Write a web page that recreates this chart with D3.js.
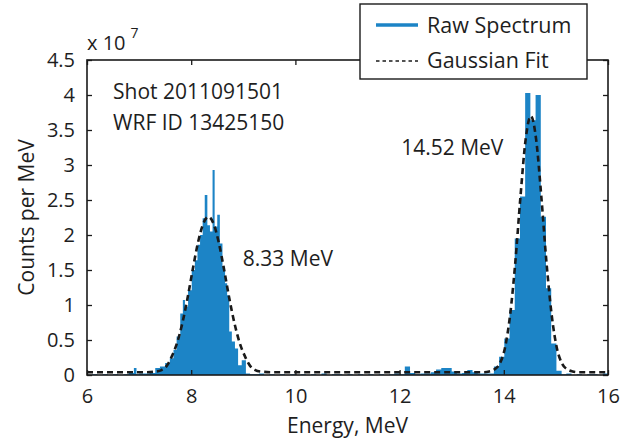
<!DOCTYPE html>
<html><head><meta charset="utf-8">
<script src="https://cdn.jsdelivr.net/npm/d3@7"></script>
<style>body{margin:0;background:#fff}svg text{font-family:"Open Sans",sans-serif;fill:#1e1e1e}</style>
</head><body><svg id="c" width="623" height="439"></svg>
<script>
// Raw spectrum: bin start energies (MeV) and counts per MeV (x 1e7)
const binStart = [6.0,6.1,6.2,6.3,6.4,6.5,6.6,6.7,6.8,6.9,6.95,7.0,7.1,
  7.2,7.31,7.40,7.50,7.59,7.66,7.72,7.79,7.84,7.88,7.94,8.01,8.07,8.12,8.17,8.22,8.26,8.31,8.36,8.41,8.45,8.50,8.55,8.60,8.65,8.69,8.73,8.78,8.84,8.90,8.97,9.05,9.13,
  9.2,9.3,9.4,9.5,9.6,9.7,9.8,9.9,10.0,10.1,10.2,10.3,10.4,10.5,10.6,10.7,10.8,10.9,11.0,11.1,11.2,11.3,11.4,11.5,11.6,11.7,11.8,11.9,12.0,12.1,12.2,12.3,12.4,12.5,12.6,12.7,12.8,12.9,13.0,13.1,13.2,13.3,13.4,13.5,13.6,13.7,
  13.81,13.91,14.01,14.11,14.21,14.31,14.41,14.51,14.61,14.71,14.81,14.91,15.01,15.11,
  15.2,15.3,15.4,15.5,15.6,15.7,15.8,15.9];
const counts = [0.0,0.01,0.0,0.01,0.0,0.01,0.0,0.01,0.03,0.10,0.01,0.02,0.02,
  0.03,0.10,0.12,0.17,0.24,0.36,0.55,0.88,1.07,0.98,1.21,1.50,1.64,1.86,2.00,2.24,2.57,2.14,2.05,2.93,2.12,2.29,1.88,1.55,1.31,1.14,0.62,0.48,0.38,0.14,0.21,0.02,0.01,
  0.01,0.02,0.0,0.01,0.0,0.01,0.0,0.01,0.0,0.01,0.0,0.01,0.0,0.02,0.0,0.01,0.01,0.0,0.01,0.0,0.01,0.0,0.01,0.0,0.01,0.0,0.01,0.02,0.01,0.12,0.03,0.01,0.02,0.02,0.04,0.08,0.10,0.10,0.05,0.02,0.03,0.07,0.04,0.02,0.02,0.02,
  0.12,0.26,0.52,0.93,1.95,2.55,4.03,3.64,4.00,2.26,1.24,0.45,0.06,0.01,
  0.02,0.0,0.01,0.0,0.01,0.01,0.0,0.02];
const binEnd = 16;

// Gaussian fit curve points
const fitE = [6.0,7.0,7.13,7.33,7.43,7.53,7.63,7.73,7.83,7.93,8.03,8.13,8.23,8.33,8.43,8.53,8.63,8.73,8.83,8.93,9.03,9.13,9.23,9.33,9.53,
  13.5,13.62,13.72,13.82,13.92,14.02,14.12,14.22,14.32,14.42,14.52,14.62,14.72,14.82,14.92,15.02,15.12,15.22,15.32,15.42,16.0];
const fitV = [0.04,0.04,0.04,0.05,0.07,0.13,0.27,0.46,0.74,1.10,1.51,1.89,2.16,2.26,2.16,1.89,1.51,1.10,0.74,0.46,0.27,0.13,0.07,0.05,0.04,
  0.04,0.04,0.05,0.08,0.16,0.38,0.85,1.60,2.55,3.37,3.70,3.37,2.55,1.60,0.85,0.38,0.16,0.08,0.05,0.04,0.04];

const xTicks = [6,8,10,12,14,16];
const yTicks = [0,0.5,1,1.5,2,2.5,3,3.5,4,4.5];
const yTickLabels = ["0","0.5","1","1.5","2","2.5","3","3.5","4","4.5"];
const annotations = [
  {text:"Shot 2011091501", e:6.5, v:3.94},
  {text:"WRF ID 13425150", e:6.5, v:3.5},
  {text:"8.33 MeV", e:8.99, v:1.56},
  {text:"14.52 MeV", e:12.03, v:3.14}
];
const legendItems = ["Raw Spectrum","Gaussian Fit"];

const blue = "#1c84c6";
const svg = d3.select("#c");
const x = d3.scaleLinear().domain([6,16]).range([87,608]);
const y = d3.scaleLinear().domain([0,4.5]).range([375,60]);

// histogram
const hist = binStart.map((e,i)=>({e, v:counts[i]}));
hist.push({e:binEnd, v:counts[counts.length-1]});
svg.append("path").datum(hist)
  .attr("d", d3.area().x(d=>x(d.e)).y0(y(0)).y1(d=>y(d.v)).curve(d3.curveStepAfter))
  .attr("fill", blue);

// axes box
svg.append("rect").attr("x",87).attr("y",60).attr("width",521).attr("height",315)
  .attr("fill","none").attr("stroke","#1a1a1a").attr("stroke-width",1.6);

const xb = svg.append("g").attr("transform",`translate(0,${y(0)})`)
  .call(d3.axisBottom(x).tickValues(xTicks).tickSizeInner(-5).tickSizeOuter(0).tickPadding(14).tickFormat(d3.format("d")));
xb.select(".domain").remove();
const xt = svg.append("g").attr("transform",`translate(0,${y(4.5)})`)
  .call(d3.axisTop(x).tickValues(xTicks).tickSizeInner(-5).tickSizeOuter(0).tickFormat(""));
xt.select(".domain").remove();
const yl = svg.append("g").attr("transform",`translate(${x(6)},0)`)
  .call(d3.axisLeft(y).tickValues(yTicks).tickSizeInner(-5).tickSizeOuter(0).tickPadding(12).tickFormat((d,i)=>yTickLabels[i]));
yl.select(".domain").remove();
const yr = svg.append("g").attr("transform",`translate(${x(16)},0)`)
  .call(d3.axisRight(y).tickValues(yTicks).tickSizeInner(-5).tickSizeOuter(0).tickFormat(""));
yr.select(".domain").remove();
svg.selectAll(".tick line").attr("stroke","#1a1a1a").attr("stroke-width",1.3);
xb.selectAll("text").attr("font-size",20).attr("font-family","Open Sans").attr("fill","#1e1e1e");
yl.selectAll("text").attr("font-size",20).attr("font-family","Open Sans").attr("fill","#1e1e1e");

// fit line
svg.append("path").datum(fitE.map((e,i)=>({e,v:fitV[i]})))
  .attr("d", d3.line().x(d=>x(d.e)).y(d=>y(d.v)).curve(d3.curveMonotoneX))
  .attr("fill","none").attr("stroke","#1a1a1a").attr("stroke-width",2.6).attr("stroke-dasharray","6,4");

// axis labels
svg.append("text").attr("x",(x(6)+x(16))/2).attr("y",433).attr("text-anchor","middle").attr("font-size",21).text("Energy, MeV");
svg.append("text").attr("transform",`translate(34,${(y(0)+y(4.5))/2}) rotate(-90)`).attr("text-anchor","middle").attr("font-size",21).text("Counts per MeV");
const ex = svg.append("text").attr("x",87).attr("y",50).attr("font-size",20);
ex.append("tspan").text("x 10");
ex.append("tspan").attr("dx",5).attr("dy",-12).attr("font-size",14).text("7");

// annotations
svg.selectAll(".ann").data(annotations).enter().append("text")
  .attr("x",d=>x(d.e)).attr("y",d=>y(d.v)).attr("font-size",21).text(d=>d.text);

// legend
const lg = svg.append("g");
lg.append("rect").attr("x",360).attr("y",4).attr("width",227).attr("height",75)
  .attr("fill","#fff").attr("stroke","#1a1a1a").attr("stroke-width",1.4);
lg.append("line").attr("x1",376).attr("x2",418).attr("y1",25).attr("y2",25).attr("stroke",blue).attr("stroke-width",3.5);
lg.append("line").attr("x1",376).attr("x2",418).attr("y1",61).attr("y2",61).attr("stroke","#1a1a1a").attr("stroke-width",1.6).attr("stroke-dasharray","3.5,3");
lg.selectAll(".lt").data(legendItems).enter().append("text")
  .attr("x",427).attr("y",(d,i)=>33+i*35).attr("font-size",21.5).text(d=>d);
</script>
</body></html>
